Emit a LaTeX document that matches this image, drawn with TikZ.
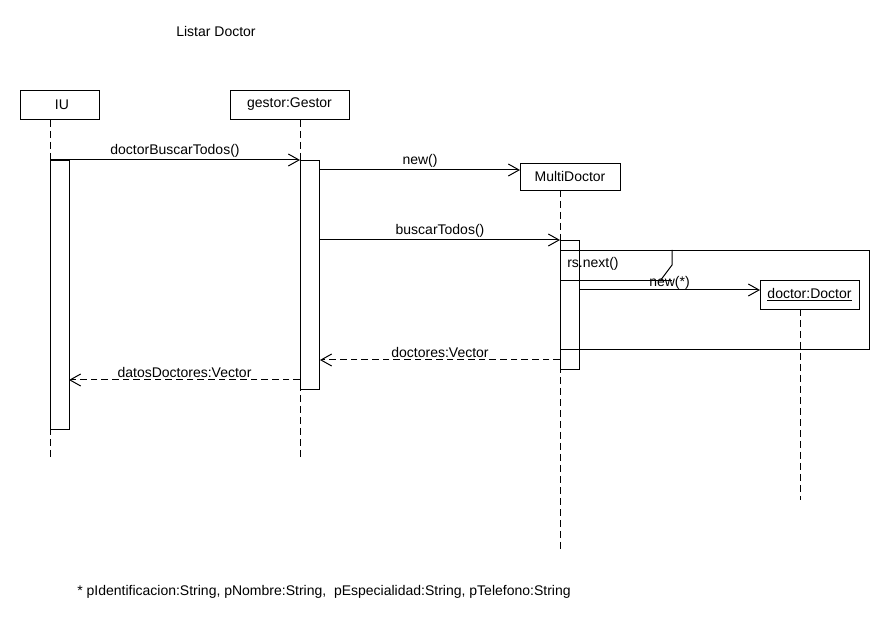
\documentclass[tikz,border=0pt]{standalone}
\usepackage{fontspec}
\setmainfont{Liberation Sans}
\usetikzlibrary{arrows.meta,calc}
\begin{document}
\begin{tikzpicture}[x=0.75pt,y=-0.75pt,
  font=\fontsize{10.5}{12}\selectfont,
  every node/.style={inner sep=0pt},
  obj/.style={draw, line width=0.75pt, anchor=north west, minimum height=21.75pt},
  act/.style={draw, fill=white, line width=0.75pt, anchor=north west, minimum width=14.25pt},
  life/.style={line width=0.75pt, dash pattern=on 5.25pt off 3pt},
  msg/.style={line width=0.75pt, -{Straight Barb[length=8pt,width=9pt,line width=0.75pt]}},
  ret/.style={msg, dash pattern=on 5pt off 3pt},
  lbl/.style={above=1.2pt}]
\fill[white] (0,0) rectangle (890,630);
\useasboundingbox (0,0) rectangle (890,630);

% title
\node (title) at (216,32) {Listar Doctor};

% objects
\node[obj, minimum width=59.25pt] (iu) at (20,90) {};
\node (iut) at (62,104.5) {IU};
\node[obj, minimum width=89.25pt] (gestor) at (230,90) {};
\node (gestort) at (289.5,104.5) {gestor:Gestor};
\node[obj, minimum width=75pt, minimum height=20.25pt] (md) at (520,163) {};
\node (mdt) at (570,176.5) {MultiDoctor};
\node[obj, minimum width=74.25pt, minimum height=21.75pt] (doc) at (760,280) {};
\node (doct) at (809.5,294.5) {\underline{doctor:Doctor}};

% lifeline anchors
\coordinate (iuTop) at (50,120);
\coordinate (iuEnd) at (50,460);
\coordinate (gTop) at (300,120);
\coordinate (gEnd) at (300,460);
\coordinate (mdTop) at (560,190);
\coordinate (mdEnd) at (560,550);
\coordinate (dTop) at (800,309);
\coordinate (dEnd) at (800,500);

\draw[life] (iuTop) -- (iuEnd);
\draw[life] (gTop) -- (gEnd);
\draw[life] (mdTop) -- (mdEnd);
\draw[life] (dTop) -- (dEnd);

% activations
\node[act, minimum height=201.75pt] (aiu) at (50,160) {};
\node[act, minimum height=171.75pt] (ag) at (300,160) {};
\node[act, minimum height=96.75pt] (amd) at (560,240) {};

% loop frame
\node[draw, line width=0.75pt, anchor=north west, minimum width=231.75pt, minimum height=74.25pt] (loop) at (560,250) {};
\coordinate (p1) at (672,250);
\coordinate (p2) at (672,265);
\coordinate (p3) at (660,281);
\coordinate (p4) at (560,281);
\coordinate (p5) at (672,281);
\draw[line width=0.75pt] (p1) -- (p2) -- (p3);
\draw[line width=0.75pt] (p4) -- (p5);
\node[anchor=west] (loopt) at (567,264) {rs.next()};

% message points
\coordinate (m1s) at (50,160);
\coordinate (m1e) at (300,160);
\coordinate (m2s) at (320,170);
\coordinate (m2e) at (520,170);
\coordinate (m3s) at (320,240);
\coordinate (m3e) at (560,240);
\coordinate (m4s) at (579,290);
\coordinate (m4e) at (760,290);
\coordinate (r1s) at (560,360);
\coordinate (r1e) at (320,360);
\coordinate (r2s) at (300,380);
\coordinate (r2e) at (69,380);

\draw[msg] (m1s) -- (m1e) node[midway, lbl] {doctorBuscarTodos()};
\draw[msg] (m2s) -- (m2e) node[midway, lbl] {new()};
\draw[msg] (m3s) -- (m3e) node[midway, lbl] {buscarTodos()};
\draw[msg] (m4s) -- (m4e) node[midway, lbl, yshift=-1pt] {new(*)};
\draw[ret] (r1s) -- (r1e) node[midway, lbl] {doctores:Vector};
\draw[ret] (r2s) -- (r2e) node[midway, lbl] {datosDoctores:Vector};

% footnote
\node[anchor=west] (note) at (77,592) {* pIdentificacion:String, pNombre:String,\ \ pEspecialidad:String, pTelefono:String};
\end{tikzpicture}
\end{document}
